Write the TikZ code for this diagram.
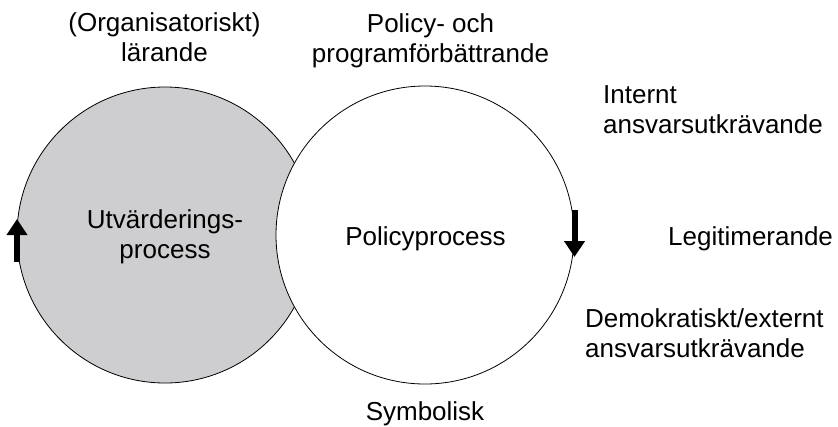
\documentclass[tikz,border=0pt]{standalone}
\usepackage{fontspec}
\setmainfont{Liberation Sans}
\usetikzlibrary{arrows.meta}
\definecolor{evalgrey}{RGB}{206,205,207}
\begin{document}
\begin{tikzpicture}[x=1bp,y=-1bp,
  lbl/.style={font=\fontsize{26bp}{30bp}\selectfont, inner sep=0pt, align=center, anchor=base},
  lbll/.style={font=\fontsize{26bp}{30bp}\selectfont, inner sep=0pt, align=left, anchor=base west},
  proc/.style={circle, draw=black, line width=0.8bp, inner sep=0pt, minimum size=296bp},
  bigarrow/.style={line width=6bp, -{Triangle[width=20bp,length=16bp]}}]
\useasboundingbox (0,0) rectangle (838,426);
\node[proc, fill=evalgrey] (eval) at (165,235) {};
\node[proc, fill=white, minimum size=298bp] (policy) at (425,235) {};
\node[lbl] (evaltxt) at (165,258) {Utvärderings-\\process};
\node[lbl] (poltxt) at (425.5,245) {Policyprocess};
\node[lbl] (learn) at (164.5,61) {(Organisatoriskt)\\lärande};
\node[lbl] (improve) at (430.5,62) {Policy- och\\programförbättrande};
\node[lbll] (intern) at (603,133) {Internt\\ansvarsutkrävande};
\node[lbll] (legit) at (668,245) {Legitimerande};
\node[lbll] (demo) at (585,357) {Demokratiskt/externt\\ansvarsutkrävande};
\node[lbl] (symb) at (425,420) {Symbolisk};
\coordinate (la1) at (17,262);
\coordinate (la2) at (17,219);
\coordinate (ra1) at (574.5,210);
\coordinate (ra2) at (574.5,257);
\draw[bigarrow] (la1) -- (la2);
\draw[bigarrow] (ra1) -- (ra2);
\end{tikzpicture}
\end{document}
